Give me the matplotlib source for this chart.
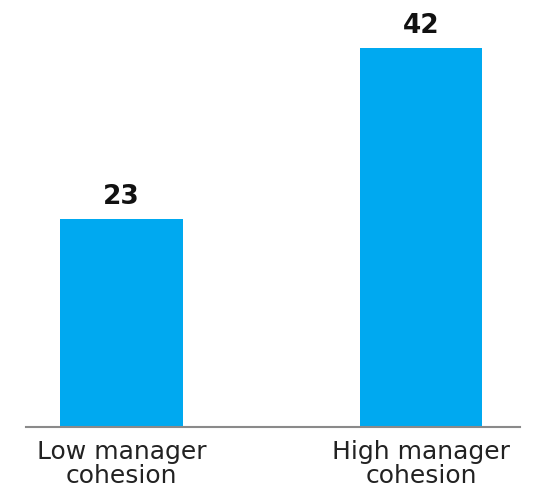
import matplotlib
matplotlib.use("Agg")
import matplotlib.pyplot as plt

categories = ["Low manager\ncohesion", "High manager\ncohesion"]
values = [23, 42]

W, H = 536, 491
fig = plt.figure(figsize=(W/100, H/100), dpi=100)
ax = fig.add_axes([26/W, 64/H, 494/W, 379/H])
x = list(range(len(categories)))
ax.bar(x, values, width=0.41, color="#00A9F0")
ax.set_xlim(-0.319, 1.331)
ax.set_ylim(0, 42)
for s in ["top", "right", "left"]:
    ax.spines[s].set_visible(False)
ax.spines["bottom"].set_color("#8a8a8a")
ax.spines["bottom"].set_linewidth(1.5)
ax.set_yticks([])
ax.set_xticks(x)
ax.set_xticklabels(categories, fontsize=18, family="DejaVu Sans", color="#222222", linespacing=1.05)
ax.tick_params(axis="x", length=0, pad=9)
for xi, v in zip(x, values):
    ax.text(xi, v + 1.0, str(v), ha="center", va="bottom", fontsize=19, fontweight="bold",
            family="DejaVu Sans", color="#111111", clip_on=False)
fig.savefig("out.png", dpi=100)
